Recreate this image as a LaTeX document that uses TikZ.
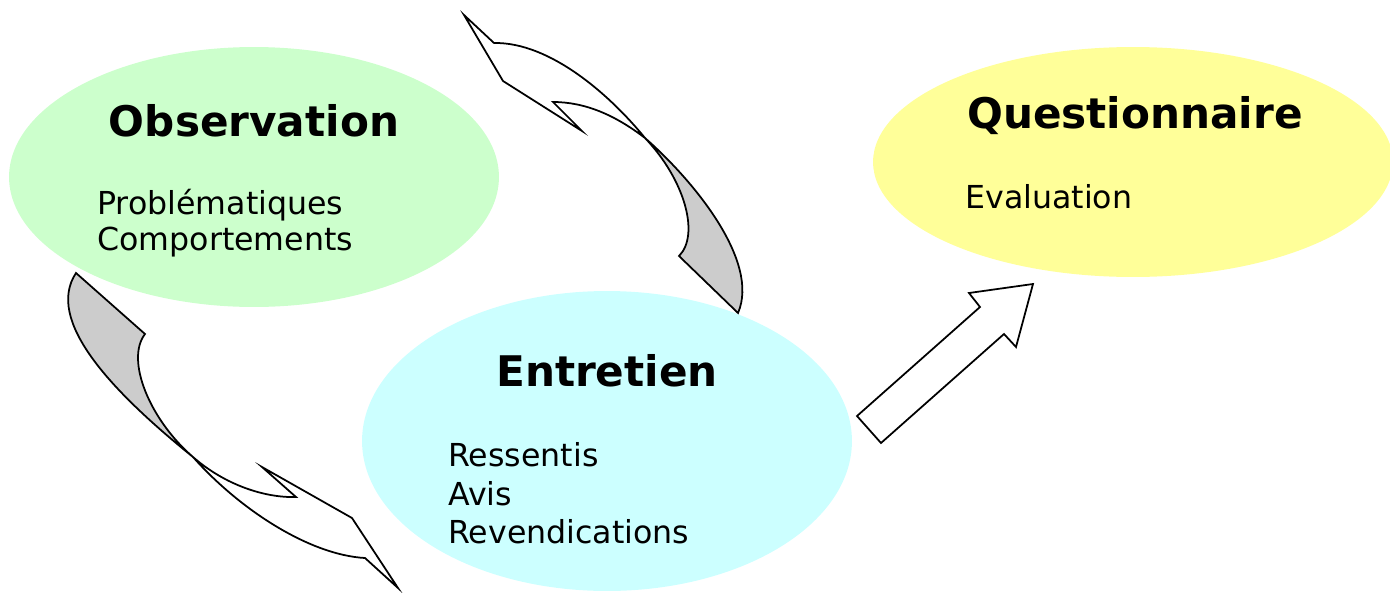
\documentclass[tikz,border=0pt]{standalone}
\usepackage{fontspec}
\setmainfont{DejaVu Sans}
\usepackage{tikz}
\usetikzlibrary{shapes.geometric}
\usepackage{xcolor}
\definecolor{vertpale}{HTML}{CCFFCC}
\definecolor{jaunepale}{HTML}{FFFF99}
\definecolor{cyanpale}{HTML}{CCFFFF}

\begin{document}
\begin{tikzpicture}[
		x=0.02cm, y=-0.02cm,  % 一个单位 = 参考图一个像素
		bulle/.style={ellipse, inner sep=0pt},
		titre/.style={anchor=base, font=\fontsize{24}{28}\selectfont\bfseries},
		item/.style={anchor=base west, inner sep=0pt, font=\fontsize{18}{21}\selectfont},
		fleche/.style={draw=black, fill=white, line width=1pt, line join=miter}
		]
		\useasboundingbox (0,0) rectangle (1390,592);
		% 三个椭圆
		\node[bulle, fill=vertpale, minimum width=9.8cm, minimum height=5.2cm] (obs) at (254,177) {};
		\node[bulle, fill=jaunepale, minimum width=10.4cm, minimum height=4.6cm] (quest) at (1133,162) {};
		\node[bulle, fill=cyanpale, minimum width=9.8cm, minimum height=6cm] (entr) at (607,441) {};
		% 标题
		\node[titre] (obsT) at (254,136) {Observation};
		\node[titre] (questT) at (1135,128) {Questionnaire};
		\node[titre] (entrT) at (607,386) {Entretien};
		% 内容
		\node[item] (prob) at (97,214) {Problématiques};
		\node[item] (comp) at (97,250) {Comportements};
		\node[item] (eval) at (965,208) {Evaluation};
		\node[item] (ress) at (448,466) {Ressentis};
		\node[item] (avis) at (448,505) {Avis};
		\node[item] (reve) at (448,543) {Revendications};
		% 弯箭头(上)
		\def\flecheHaut{(464,15) -- (494,43) .. controls (550,42) and (610,95) .. (645,138)
			.. controls (695,182) and (760,262) .. (738,313) -- (679,256)
			.. controls (700,235) and (685,180) .. (645,138)
			.. controls (615,115) and (585,102) .. (553,102) -- (582,131) -- (503,81) -- cycle}
		\fill[white] \flecheHaut;
		\begin{scope}
			\clip (843,-87) -- (1143,177) -- (747,627) -- (447,363) -- cycle;
			\fill[gray!40] \flecheHaut;
		\end{scope}
		\draw[line width=1pt] \flecheHaut;
		% 弯箭头(下)
		\def\flecheBas{(398,588) -- (365,558) .. controls (310,555) and (240,510) .. (193,457)
			.. controls (110,390) and (45,320) .. (76,273) -- (145,334)
			.. controls (125,360) and (150,420) .. (193,457)
			.. controls (225,485) and (265,498) .. (296,497) -- (262,467) -- (352,518) -- cycle}
		\fill[white] \flecheBas;
		\begin{scope}
			\clip (347,329) -- (155,98) -- (-153,354) -- (39,585) -- cycle;
			\fill[gray!40] \flecheBas;
		\end{scope}
		\draw[line width=1pt] \flecheBas;
		% 直箭头
		\draw[fleche] (857,416) -- (980,307) -- (969,293) -- (1033,284) -- (1016,347) -- (1004,334) -- (881,443) -- cycle;
	\end{tikzpicture}
\end{document}
